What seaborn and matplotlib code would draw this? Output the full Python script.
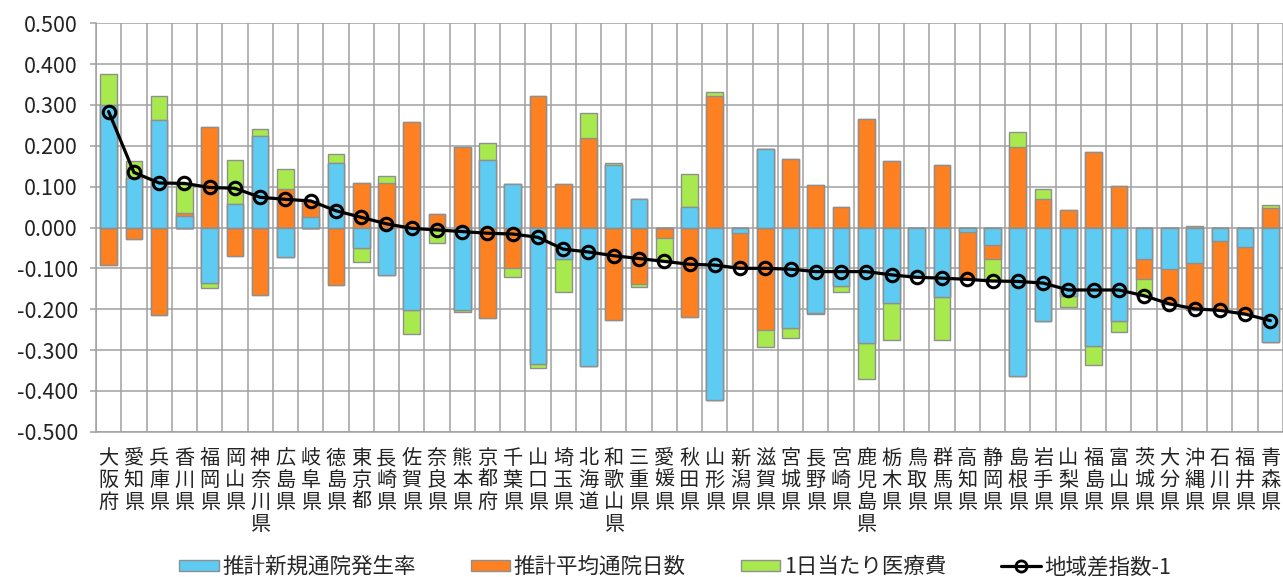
import numpy as np
import pandas as pd
import matplotlib
matplotlib.use("Agg")
import matplotlib.pyplot as plt
from matplotlib.patches import Patch
from matplotlib.lines import Line2D
import seaborn as sns

# ---------------- data ----------------
prefectures = ["大阪府", "愛知県", "兵庫県", "香川県", "福岡県", "岡山県", "神奈川県", "広島県",
               "岐阜県", "徳島県", "東京都", "長崎県", "佐賀県", "奈良県", "熊本県", "京都府",
               "千葉県", "山口県", "埼玉県", "北海道", "和歌山県", "三重県", "愛媛県", "秋田県",
               "山形県", "新潟県", "滋賀県", "宮城県", "長野県", "宮崎県", "鹿児島県", "栃木県",
               "鳥取県", "群馬県", "高知県", "静岡県", "島根県", "岩手県", "山梨県", "福島県",
               "富山県", "茨城県", "大分県", "沖縄県", "石川県", "福井県", "青森県"]

new_visit_rate = [0.300, 0.121, 0.262, 0.029, -0.137, 0.058, 0.224, -0.073,
                  0.025, 0.159, -0.051, -0.117, -0.202, 0.000, -0.202, 0.166,
                  0.106, -0.334, -0.078, -0.340, 0.152, 0.069, 0.000, 0.049,
                  -0.422, -0.014, 0.192, -0.245, -0.210, -0.144, -0.283, -0.184,
                  -0.122, -0.171, -0.010, -0.042, -0.363, -0.228, -0.167, -0.291,
                  -0.228, -0.076, -0.102, -0.086, -0.033, -0.047, -0.281]

avg_visit_days = [-0.093, -0.029, -0.215, 0.006, 0.247, -0.071, -0.166, 0.095,
                  0.040, -0.141, 0.110, 0.110, 0.259, 0.033, 0.198, -0.222,
                  -0.098, 0.321, 0.106, 0.219, -0.226, -0.138, -0.026, -0.219,
                  0.323, -0.086, -0.250, 0.167, 0.104, 0.051, 0.265, 0.162,
                  0.000, 0.152, -0.117, -0.036, 0.197, 0.071, 0.042, 0.184,
                  0.102, -0.049, -0.086, -0.117, -0.170, -0.165, 0.047]

cost_per_day = [0.077, 0.043, 0.061, 0.072, -0.012, 0.108, 0.016, 0.048,
                0.000, 0.021, -0.034, 0.015, -0.059, -0.038, -0.005, 0.042,
                -0.024, -0.010, -0.081, 0.061, 0.005, -0.008, -0.057, 0.082,
                0.008, 0.000, -0.043, -0.026, -0.002, -0.014, -0.088, -0.091,
                0.000, -0.105, 0.000, -0.052, 0.036, 0.023, -0.028, -0.046,
                -0.027, -0.042, 0.000, 0.004, 0.000, 0.000, 0.008]

regional_index = [0.284, 0.135, 0.109, 0.108, 0.098, 0.096, 0.074, 0.069,
                  0.065, 0.041, 0.025, 0.009, -0.002, -0.006, -0.010, -0.014,
                  -0.016, -0.024, -0.053, -0.060, -0.069, -0.076, -0.083, -0.090,
                  -0.092, -0.100, -0.100, -0.102, -0.108, -0.108, -0.108, -0.116,
                  -0.122, -0.124, -0.127, -0.131, -0.132, -0.136, -0.153, -0.153,
                  -0.153, -0.167, -0.187, -0.199, -0.203, -0.212, -0.228]

series_names = ["推計新規通院発生率", "推計平均通院日数", "1日当たり医療費"]
line_name = "地域差指数-1"
y_ticks = [0.5, 0.4, 0.3, 0.2, 0.1, 0.0, -0.1, -0.2, -0.3, -0.4, -0.5]
y_tick_labels = ["0.500", "0.400", "0.300", "0.200", "0.100", "0.000",
                 "-0.100", "-0.200", "-0.300", "-0.400", "-0.500"]

# ---------------- style ----------------
sns.set_theme(style="white")
plt.rcParams["font.family"] = ["Noto Sans CJK JP", "DejaVu Sans"]

colors = ["#5ECBF3", "#FD8021", "#A8EA4E"]
edge = "#8F8F8F"
grid_c = "#A0A0A0"

W, H = 1283, 577
fig = plt.figure(figsize=(W / 100, H / 100), dpi=100)
ax = fig.add_axes([96 / W, 1 - 431.7 / H, (W - 96) / W, (431.7 - 23.3) / H])

n = len(prefectures)
idx = np.arange(n)
comp = np.array([new_visit_rate, avg_visit_days, cost_per_day])  # (3, n)

pos = np.cumsum(np.clip(comp, 0, None), axis=0)
neg = np.cumsum(np.clip(comp, None, 0), axis=0)

# draw cumulative stacks from outermost to innermost so that the segments appear stacked
for k in [2, 1, 0]:
    for stack in (pos, neg):
        df = pd.DataFrame({"x": idx, "y": stack[k]})
        sns.barplot(data=df, x="x", y="y", native_scale=True, orient="x",
                    color=colors[k], saturation=1, width=0.66,
                    edgecolor=edge, linewidth=1.0, errorbar=None, ax=ax, zorder=2)

line_df = pd.DataFrame({"x": idx, "y": regional_index})
sns.lineplot(data=line_df, x="x", y="y", ax=ax, color="black", linewidth=2.3,
             marker="o", markersize=9, markerfacecolor="none", markeredgecolor="black",
             markeredgewidth=2.2, sort=False, zorder=5)

# ---------------- axes ----------------
ax.set_xlim(-0.5, n - 0.5)
ax.set_ylim(-0.5, 0.5)
ax.set_xlabel("")
ax.set_ylabel("")
ax.set_yticks(y_ticks)
ax.set_yticklabels(y_tick_labels, fontsize=15.5, color="#222222")
ax.set_xticks(idx)
ax.set_xticklabels(["\n".join(p) for p in prefectures], fontsize=14.5,
                   linespacing=1.05, va="top", color="#222222")
ax.set_xticks(np.arange(-0.5, n, 1.0), minor=True)

ax.set_axisbelow(True)
ax.grid(False)
ax.grid(True, which="major", axis="y", color=grid_c, linewidth=1.1)
ax.grid(True, which="minor", axis="x", color=grid_c, linewidth=1.1)

ax.tick_params(axis="x", which="both", length=0, pad=12)
ax.tick_params(axis="y", which="major", length=4.5, width=1.1, color=grid_c,
               direction="out", pad=8.5, left=True)
for s in ["top", "right"]:
    ax.spines[s].set_visible(False)
for s in ["left", "bottom"]:
    ax.spines[s].set_color(grid_c)
    ax.spines[s].set_linewidth(1.1)

# ---------------- legend ----------------
handles = [Patch(facecolor=colors[i], edgecolor=edge, linewidth=1.0) for i in range(3)]
handles.append(Line2D([], [], color="black", linewidth=2.3, marker="o", markersize=8,
                      markerfacecolor="none", markeredgecolor="black", markeredgewidth=2.0))
labels = series_names + [line_name]
fig.legend(handles, labels, loc="center", bbox_to_anchor=(675 / W, 1 - 567 / H),
           ncol=4, frameon=False, fontsize=15.5, handlelength=1.85, handleheight=0.45,
           handletextpad=0.15, columnspacing=2.55, borderaxespad=0, borderpad=0)

fig.savefig("out.png", dpi=100)
